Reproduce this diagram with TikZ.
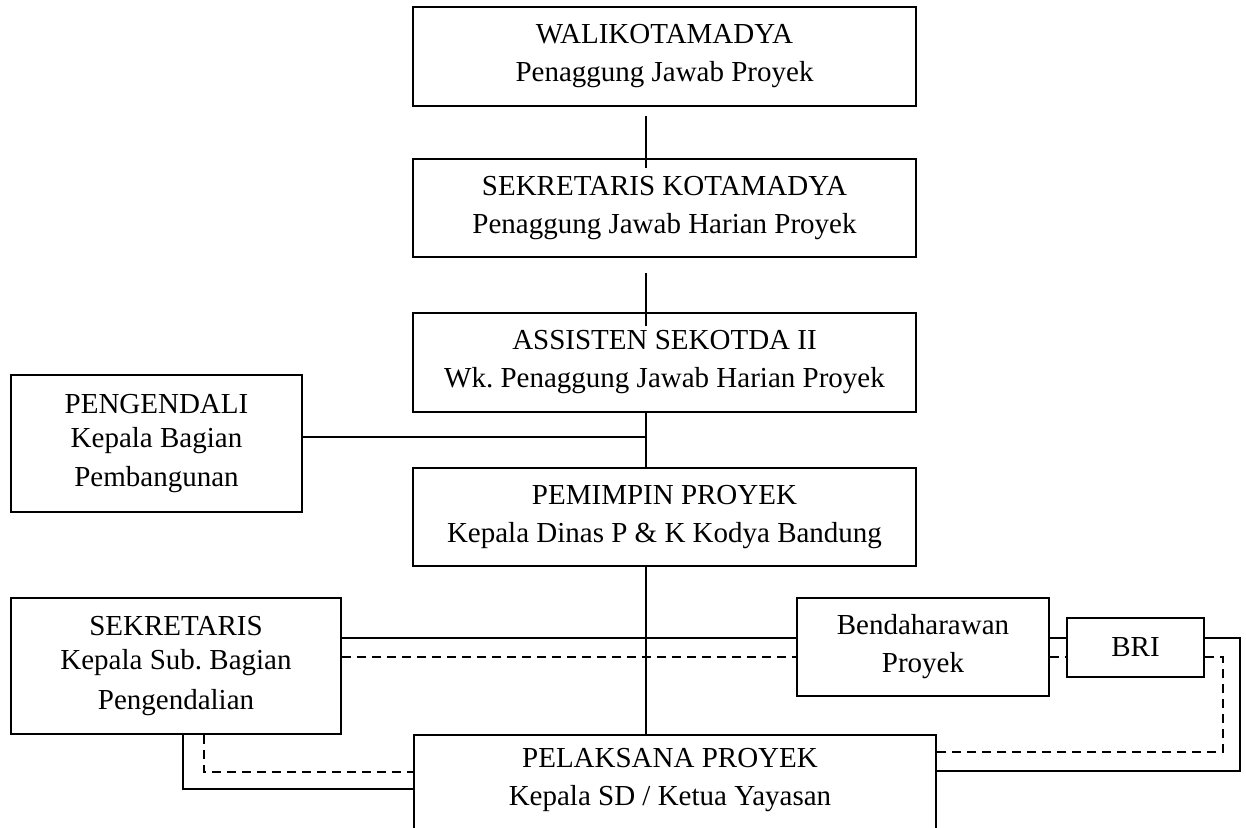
\documentclass[tikz,border=0pt]{standalone}
\usepackage{fontspec}
\setmainfont{Liberation Serif}
\frenchspacing
\begin{document}
\begin{tikzpicture}[x=1pt,y=-1pt,
  box/.style={draw=black, line width=1.5pt, inner sep=0pt, align=center,
    font=\fontsize{29}{38}\selectfont\frenchspacing},
  txt/.style={inner sep=0pt, align=center, font=\fontsize{29}{38}\selectfont\frenchspacing},
  conn/.style={draw=black, line width=1.5pt},
  dconn/.style={draw=black, line width=1.5pt, dash pattern=on 9pt off 6pt}]
\useasboundingbox (0,0) rectangle (1246,827);
\clip (0,0) rectangle (1246,827);
% boxes
\node[box, minimum width=503pt, minimum height=99pt] (b1) at (664.5,56.5)
  {WALIKOTAMADYA\\Penaggung Jawab Proyek};
\node[box, minimum width=503pt, minimum height=98pt] (b2) at (664.5,208)
  {SEKRETARIS KOTAMADYA\\Penaggung Jawab Harian Proyek};
\node[box, minimum width=503pt, minimum height=99pt] (b3) at (664.5,362.5)
  {ASSISTEN SEKOTDA II\\Wk. Penaggung Jawab Harian Proyek};
\node[box, minimum width=503pt, minimum height=98pt] (b4) at (664.5,517)
  {PEMIMPIN PROYEK\\Kepala Dinas P \& K Kodya Bandung};
\node[box, minimum width=291pt, minimum height=137pt] (peng) at (156.5,443.5)
  {PENGENDALI\\[-4pt]Kepala Bagian\\[1pt]Pembangunan};
\node[box, minimum width=330pt, minimum height=136pt] (sek) at (176,666)
  {SEKRETARIS\\[-4pt]Kepala Sub. Bagian\\[2pt]Pengendalian};
\node[box, minimum width=252pt, minimum height=98pt] (bend) at (923,647)
  {Bendaharawan\\Proyek};
\node[box, minimum width=137pt, minimum height=59pt] (bri) at (1135.5,647.5)
  {BRI};
\node[box, minimum width=522pt, minimum height=160pt, anchor=north] (pel) at (675,734) {};
\node[txt] (peltxt) at (670,780) {PELAKSANA PROYEK\\Kepala SD / Ketua Yayasan};
% helper coordinates
\coordinate (spine) at (646,0);
\coordinate (j1) at (646,437);
\coordinate (ys) at (0,638);
\coordinate (yd) at (0,657);
\coordinate (rs) at (1240,771);
\coordinate (rd) at (1223,752);
\coordinate (ls) at (183,789);
\coordinate (ld) at (204,772);
% vertical chain
\draw[conn] ([yshift=-9pt]b1.south -| spine) -- ([yshift=-10pt]b2.north -| spine);
\draw[conn] ([yshift=-15pt]b2.south -| spine) -- ([yshift=-14pt]b3.north -| spine);
\draw[conn] (b3.south -| spine) -- (b4.north -| spine);
\draw[conn] (j1 -| peng.east) -- (j1);
\draw[conn] (b4.south -| spine) -- (pel.north -| spine);
% sekretaris - bendaharawan - BRI
\draw[conn] (ys -| sek.east) -- (ys -| bend.west);
\draw[dconn] (yd -| sek.east) -- (yd -| bend.west);
\draw[conn] (ys -| bend.east) -- (ys -| bri.west);
\draw[dconn] (yd -| bend.east) -- (yd -| bri.west);
% BRI - pelaksana
\draw[conn] (ys -| bri.east) -| (rs) -- (rs -| pel.east);
\draw[dconn] (yd -| bri.east) -| (rd) -- (rd -| pel.east);
% sekretaris - pelaksana
\draw[conn] (ls |- sek.south) -- (ls) -- (ls -| pel.west);
\draw[dconn] (ld |- sek.south) -- (ld) -- (ld -| pel.west);
\end{tikzpicture}
\end{document}
